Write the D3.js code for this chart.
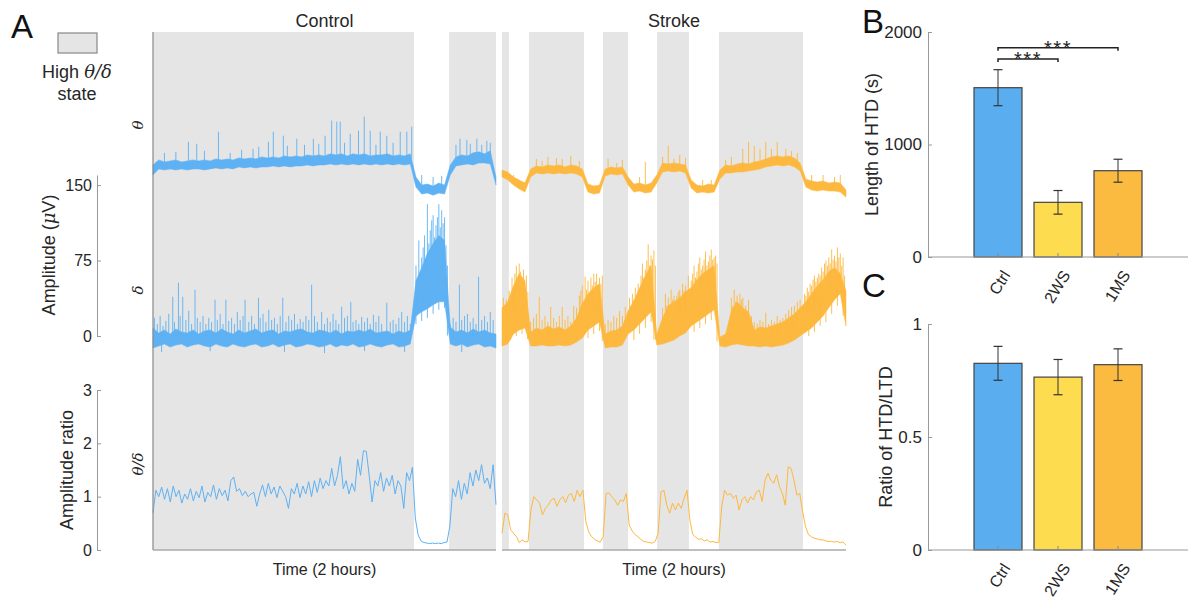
<!DOCTYPE html>
<html>
<head>
<meta charset="utf-8">
<script src="https://cdn.jsdelivr.net/npm/d3@7"></script>
<style>
body { margin: 0; background: #fff; }
svg { font-family: "Liberation Sans", Arial, sans-serif; }
</style>
</head>
<body>
<div id="chart"></div>
<script>
// ---- data ----
const groups = ['Ctrl', '2WS', '1MS'];
const htdLength = [1505, 486, 767];
const htdLengthErr = [160, 105, 102];
const htdRatio = [0.826, 0.765, 0.82];
const htdRatioErr = [0.075, 0.078, 0.07];
const sigPairs = [[0, 1, '***'], [0, 2, '***']];

const ampTicks = [0, 75, 150];
const ratioTicks = [0, 1, 2, 3];
const lengthTicks = [0, 1000, 2000];
const ratioBarTicks = [0, 0.5, 1];

// high theta/delta periods, minutes of the 2 hour window
const ctrlHigh = [[0, 91.3], [103.6, 120]];
const strokeHigh = [[0, 2.4], [9.4, 28.6], [35.2, 44], [54.1, 65.2], [75.7, 105]];

// amplitude envelopes, one value every 2 min (0..120), uV (theta drawn with offset)
const ctrlThetaHi = [170,175,173,174,175,173,174,175,174,175, 174,176,175,176,175,177,176,177,176,178,
  177,178,177,179,178,179,178,180,179,180, 179,181,180,181,179,181,180,181,179,180,
  180,181,179,180,179,181,158,150,151,149, 152,150,170,178,180,179,182,183,181,184, 158];
const ctrlThetaLo = [160,166,165,166,165,166,165,166,166,165, 166,167,166,167,166,168,167,168,167,168,
  168,169,168,169,168,169,169,170,169,170, 170,171,170,171,170,171,170,171,170,171,
  170,171,170,171,170,171,148,141,142,140, 142,141,160,169,170,171,170,172,172,171, 150];
const ctrlDeltaHi = [8,3,6,2,7,4,3,6,2,5, 6,3,7,4,2,6,3,5,7,3, 5,6,2,5,4,6,7,4,3,6,
  5,3,6,2,5,4,6,4,7,3, 4,5,2,5,3,6,55,68,82,92, 100,95,9,4,6,3,7,4,6,3, 2];
const ctrlDeltaLo = [-12,-10,-8,-11,-9,-8,-11,-9,-8,-10, -11,-8,-10,-11,-8,-10,-11,-9,-8,-11,
  -10,-8,-11,-9,-8,-11,-10,-8,-9,-11, -10,-8,-11,-9,-10,-8,-11,-10,-8,-10,
  -11,-9,-8,-11,-10,-8,20,24,27,31, 34,34,-8,-10,-8,-11,-9,-8,-11,-10, -12];
const strokeThetaHi = [165,163,158,155,152,166,169,168,170,169, 170,168,170,169,166,151,149,150,166,168,
  167,168,158,151,152,150,152,160,172,171, 172,171,170,155,150,149,151,150,165,170,
  169,171,172,171,173,174,176,178,179,178, 179,177,172,156,154,153,154,152,153,152, 145];
const strokeThetaLo = [158,155,150,146,143,158,162,161,162,161, 162,161,162,161,158,143,141,142,159,161,
  160,161,150,143,144,142,143,152,163,164, 163,164,162,147,142,143,142,143,156,162,
  162,163,163,164,165,166,168,169,170,169, 170,168,164,148,145,144,145,144,144,143, 138];
const strokeDeltaHi = [28,34,50,62,55, 4,8,6,10,7,9,6,10,18,32, 42,48,52, 2,5,6,10, 25,35,48,60,70,
  2,18,30,34,38,44, 48,56,62,66,70, -1,2,25,34,28,24,6,9,8,10,12,14,18,22,28,
  34,42,50,56,64,68,62,45];
const strokeDeltaLo = [-10,-8,2,6,8, -10,-10,-9,-10,-10,-9,-10,-9,-6,-2, 6,10,14, -12,-11,-11,-9, 2,6,12,18,24,
  -9,-8,-6,-4,0,3, 10,14,18,22,26, -10,-11,-9,-8,-9,-10,-10,-11,-10,-11,-10,-9,-7,-4,0,
  4,8,14,20,28,36,42,10];

// spikes out of the envelopes: [minute, peak uV]
const ctrlThetaSpikes = [[4,182],[8,183],[12.4,193],[15.3,191],[18,184],[22.9,203],[27,182],[31,185],[35,186],
  [37,188],[40.4,193],[42.1,203],[45.6,199],[47,189],[50.3,196],[53,190],[56.1,196],[58,191],[60.2,199],
  [62.5,214],[64.3,213],[65.5,213],[67,192],[69,201],[71.9,204],[73.9,218],[76,204],[78,190],[79.5,203],
  [81.8,199],[84,192],[86.5,203],[88.8,203],[90.5,208],[94,160],[98,158],[101,159],[106,190],[107.4,196],
  [109.8,195],[111,191],[113.3,196],[115,190],[116.8,194],[118,192]];
const ctrlDeltaSpikes = [[0.5,18],[1.5,12],[2.5,20],[3.5,10],[4.5,15],[5.5,22],[6.9,39],[7.5,14],[8.9,53],
  [9.5,20],[10.4,39],[11.5,16],[12.5,25],[13.5,12],[14.7,46],[15.5,18],[16.5,14],[17.5,20],[18.5,12],
  [19.5,18],[20.5,14],[21.7,36],[22.5,16],[23.5,22],[24.5,12],[25.5,36],[26.5,15],[27.5,18],[28.5,12],
  [29.5,24],[30.5,16],[31.5,20],[32.2,36],[33.5,14],[34.5,20],[35.5,12],[36.9,38],[37.5,18],[38.5,22],
  [39.5,14],[40.5,26],[41.5,16],[42.5,18],[43.5,12],[44.5,20],[45.4,38],[46.5,14],[47.5,20],[48.5,16],
  [49.5,22],[50.5,12],[51.5,17],[52.5,14],[53.5,20],[54.5,16],[55.5,51],[56.5,20],[57.5,14],[59,24],
  [60,12],[61,18],[62,14],[63,22],[64,16],[65,12],[66,29],[67,18],[68,20],[69.2,34],[70,14],[71,16],
  [72,12],[73,19],[74,14],[75,18],[76,12],[77.1,21],[78,14],[79,20],[80,12],[81.8,33],[83,14],[84,16],
  [85,12],[86,18],[87,24],[88,14],[89,20],[90,12],
  [92,70],[92.5,40],[93,95],[93.5,62],[94,78],[94.5,88],[95,100],[95.5,75],[96,131],[96.5,92],[97,105],
  [97.5,115],[98,120],[98.5,98],[99,110],[99.5,118],[100,131],[100.5,108],[101,125],[101.5,112],[102,118],
  [102.5,90],[103,70],[92,12],[94,15],[96,18],[98,22],[100,26],[102,28],
  [104,12],[105,18],[106,14],[107.2,51],[108,16],[109,20],[110,22],[111,14],[112,18],[113,12],[113.9,59],
  [115,16],[116,20],[117,14],[118,24],[119,16],
  [3,-16],[20,-15],[46,-16],[60,-17],[74,-15],[88,-16],[108,-16]];
const strokeThetaSpikes = [[4,160],[8,153],[12,176],[14,174],[16,178],[19,177],[21,176],[24,179],[27,174],
  [37,176],[40,172],[42,175],[48,158],[50,173],[56,178],[58,189],[60,176],[62,180],[64,177],[70,155],
  [73,155],[78,175],[80,178],[84,186],[86,193],[88,189],[90,186],[92,193],[94,186],[96,193],[99,186],
  [101,184],[103,182],[108,160],[112,160],[116,158],[118,160]];
const strokeDeltaSpikes = [[0.5,38],[1,20],[1.5,36],[2.5,45],[3,30],[3.5,58],[4,40],[4.5,62],[5,70],[5.5,50],
  [6,72],[6.5,64],[7,58],[7.5,66],[8,48],[8.5,60],[9,44],[3,-4],[5,0],[7,2],[9,0],
  [10,14],[11,18],[12,22],[13,39],[14,16],[15,20],[16,14],[17,29],[18,18],[19,14],[20,20],[21,29],[22,16],
  [23,20],[24,14],[25,30],[26,28],[27,40],[27.5,45],[28,50],
  [29,59],[29.5,46],[30,55],[30.5,40],[31,58],[31.5,50],[32,62],[32.5,54],[33,62],[33.5,48],[34,58],
  [34.5,52],[35,60],[30,-2],[32,2],[34,5],
  [36,12],[37,16],[38,14],[39,20],[40,18],[41,25],[42,20],[43,29],
  [44.5,38],[45,30],[45.5,42],[46,36],[46.5,48],[47,40],[47.5,52],[48,45],[48.5,60],[49,72],[49.5,58],
  [50,66],[50.5,75],[51,91],[51.5,70],[52,80],[52.5,76],[53,85],[53.5,70],[46,-4],[48,2],[50,8],[52,14],
  [55,8],[56,28],[57,42],[57.5,30],[58,38],[59,46],[59.5,36],[60,40],[61,40],[61.5,44],[62,46],[63,52],
  [63.5,45],[64,50],[65,60],
  [66,55],[66.5,62],[67,70],[67.5,58],[68,64],[68.5,72],[69,78],[69.5,66],[70,70],[70.5,76],[71,84],
  [71.5,70],[72,74],[72.5,80],[73,86],[73.5,76],[74,78],[74.5,80],[75,72],[67,4],[69,8],[71,12],[73,16],
  [80,38],[80.5,30],[81,46],[81.5,34],[82,40],[83,42],[83.5,36],[84,38],[85,30],[86,36],[87,20],[88,14],
  [89,12],[90,16],[91,14],[92,23],[93,12],[94,16],[95,14],[96,20],[97,16],[98,18],[99,22],[100,26],
  [101,29],[102,30],[103,34],[104,36],
  [105.5,42],[106,40],[106.5,48],[107,44],[107.5,52],[108,50],[108.5,56],[109,60],[109.5,54],[110,58],
  [110.5,62],[111,60],[111.5,68],[112,64],[112.5,72],[113,75],[113.5,70],[114,78],[114.5,72],[115,86],
  [115.5,76],[116,80],[116.5,74],[117,88],[117.5,78],[118,82],[118.5,70],[119,78],[119.5,60],
  [107,0],[109,4],[111,10],[113,14],[115,22],[117,30],[119,20]];

// theta/delta amplitude ratio, one value per minute
const ctrlRatio = [0.7,1.12,1.0,1.18,0.95,1.15,0.9,1.2,1.0,1.12,0.88,1.05,0.95,1.15,0.92,1.1,0.98,1.2,0.9,1.08,
  1.0,1.22,0.95,1.15,1.02,1.12,0.92,1.3,1.37,1.1,1.15,1.02,1.1,1.0,1.05,1.08,0.82,1.05,1.22,1.0,
  1.25,1.05,1.18,0.98,1.2,1.1,1.0,0.78,1.15,1.05,1.25,0.98,1.2,1.05,1.28,1.0,1.3,1.08,1.35,1.15,
  1.3,1.2,1.53,1.2,1.4,1.75,1.15,1.3,1.05,1.25,1.1,1.7,1.4,1.86,1.85,1.4,0.9,1.3,1.2,1.45,
  1.1,1.35,1.2,1.4,1.05,1.3,1.2,0.78,1.45,1.3,1.55,0.6,0.28,0.17,0.14,0.13,0.12,0.13,0.12,0.13,
  0.12,0.14,0.15,0.45,1.15,1.0,1.3,0.95,1.25,1.05,1.45,1.2,1.5,1.3,1.6,1.25,1.35,1.15,1.6,0.85];
const strokeRatio = [0.31,0.69,0.66,0.38,0.31,0.25,0.14,0.19,0.15,0.16,0.75,1.0,0.94,0.88,0.66,0.78,0.84,0.94,0.97,0.82,
  0.94,1.0,0.89,1.03,1.06,0.91,1.12,1.0,1.12,0.53,0.34,0.25,0.2,0.17,0.15,0.25,1.06,1.07,1.0,0.94,
  0.84,0.94,0.91,1.06,0.47,0.36,0.29,0.25,0.2,0.16,0.15,0.14,0.13,0.16,0.31,1.09,1.12,0.84,0.69,0.88,
  0.75,0.88,0.78,0.97,1.12,0.56,0.29,0.24,0.2,0.21,0.17,0.19,0.15,0.16,0.14,0.14,0.81,1.12,1.03,1.06,
  0.97,1.03,0.75,0.94,1.0,0.88,1.0,0.94,1.09,1.12,0.91,1.31,1.44,1.31,1.25,1.41,1.19,1.06,0.84,1.56,
  1.53,1.31,1.03,1.06,0.72,0.44,0.29,0.25,0.22,0.21,0.19,0.19,0.17,0.16,0.16,0.15,0.16,0.14,0.15,0.09];

const blue = '#5eb1f3', orange = '#fdb83f';
const barColors = ['#5aaef0', '#fddc50', '#fbbb40'];
const txt = '#262626', axisCol = '#999';

const svg = d3.select('#chart').append('svg')
    .attr('width', 1191)
    .attr('height', 599);

// ---- panel A ----
const plotTop = 32, plotBottom = 550;
const ctrlX = d3.scaleLinear().domain([0, 120]).range([153, 496]);
const strokeX = d3.scaleLinear().domain([0, 120]).range([502, 846]);
const ampY = d3.scaleLinear().domain([0, 160]).range([336, 175]);
const ratioY = d3.scaleLinear().domain([0, 3]).range([550, 390]);

function bands(x, list) {
    svg.append('g').selectAll('rect').data(list).enter().append('rect')
        .attr('x', d => x(d[0]))
        .attr('width', d => x(d[1]) - x(d[0]))
        .attr('y', plotTop)
        .attr('height', plotBottom - plotTop)
        .attr('fill', '#e5e5e5');
}
bands(ctrlX, ctrlHigh);
bands(strokeX, strokeHigh);

// envelope band plus spikes (spikes start from the middle of the band)
function envelope(lo, hi, spikes, x, color) {
    let step = 120 / (hi.length - 1);
    let idx = d3.range(hi.length);
    svg.append('path').datum(idx)
        .attr('d', d3.area().x(i => x(i * step)).y0(i => ampY(lo[i])).y1(i => ampY(hi[i])))
        .attr('fill', color)
        .attr('stroke', color)
        .attr('stroke-width', 0.5)
        .attr('stroke-linejoin', 'round');
    svg.append('g').selectAll('line').data(spikes).enter().append('line')
        .attr('x1', d => x(d[0])).attr('x2', d => x(d[0]))
        .attr('y1', d => {
            let k = Math.round(d[0] / step);
            return ampY((lo[k] + hi[k]) / 2);
        })
        .attr('y2', d => ampY(d[1]))
        .attr('stroke', color)
        .attr('stroke-opacity', 0.9)
        .attr('stroke-width', 1);
}
envelope(ctrlThetaLo, ctrlThetaHi, ctrlThetaSpikes, ctrlX, blue);
envelope(ctrlDeltaLo, ctrlDeltaHi, ctrlDeltaSpikes, ctrlX, blue);
envelope(strokeThetaLo, strokeThetaHi, strokeThetaSpikes, strokeX, orange);
envelope(strokeDeltaLo, strokeDeltaHi, strokeDeltaSpikes, strokeX, orange);

function trace(vals, x, y, color, w) {
    let xi = d3.scaleLinear().domain([0, vals.length - 1]).range(x.range());
    svg.append('path').datum(vals)
        .attr('d', d3.line().x((d, i) => xi(i)).y(d => y(d)))
        .attr('fill', 'none')
        .attr('stroke', color)
        .attr('stroke-width', w)
        .attr('stroke-linejoin', 'round');
}
trace(ctrlRatio, ctrlX, ratioY, blue, 1);
trace(strokeRatio, strokeX, ratioY, orange, 1);

// axis lines of the trace panels
svg.append('line').attr('x1', 153).attr('x2', 153).attr('y1', plotTop).attr('y2', plotBottom)
    .attr('stroke', '#888').attr('stroke-width', 1.2);
[ctrlX, strokeX].forEach(x => {
    svg.append('line').attr('x1', x.range()[0]).attr('x2', x.range()[1])
        .attr('y1', plotBottom).attr('y2', plotBottom)
        .attr('stroke', '#aaa').attr('stroke-width', 1.5);
});

const fmt = d3.format('~g');
function styleAxis(g, size) {
    g.select('.domain').attr('stroke', axisCol);
    g.selectAll('.tick line').attr('stroke', axisCol);
    g.selectAll('.tick text').attr('fill', txt).attr('font-size', size)
        .attr('font-family', '"Liberation Sans", Arial, sans-serif');
}
svg.append('g').attr('transform', 'translate(97,0)')
    .call(d3.axisLeft(ampY).tickValues(ampTicks).tickFormat(fmt).tickSizeInner(-4).tickSizeOuter(0).tickPadding(5))
    .call(g => styleAxis(g, 16));
svg.append('g').attr('transform', 'translate(97,0)')
    .call(d3.axisLeft(ratioY).tickValues(ratioTicks).tickFormat(fmt).tickSizeInner(-4).tickSizeOuter(0).tickPadding(5))
    .call(g => styleAxis(g, 16));

function vlabel(x, y, size) {
    return svg.append('text')
        .attr('transform', `translate(${x},${y}) rotate(-90)`)
        .attr('text-anchor', 'middle')
        .attr('font-size', size)
        .attr('fill', txt);
}
let amp = vlabel(55, 255, 18);
amp.append('tspan').text('Amplitude (');
amp.append('tspan').text('μ').attr('font-family', 'DejaVu Serif').attr('font-style', 'italic');
amp.append('tspan').text('V)');
vlabel(73, 470, 18).text('Amplitude ratio');

const serif = '"DejaVu Serif", "Liberation Serif", serif';
vlabel(143, 125, 15).attr('font-family', serif).attr('font-style', 'italic').text('θ');
vlabel(143, 290, 15).attr('font-family', serif).attr('font-style', 'italic').text('δ');
vlabel(143, 464, 15).attr('font-family', serif).attr('font-style', 'italic').text('θ/δ');

svg.append('text').attr('x', ctrlX(60)).attr('y', 27).attr('text-anchor', 'middle')
    .attr('font-size', 18).attr('fill', txt).text('Control');
svg.append('text').attr('x', strokeX(60)).attr('y', 27).attr('text-anchor', 'middle')
    .attr('font-size', 18).attr('fill', txt).text('Stroke');
[ctrlX, strokeX].forEach(x => {
    svg.append('text').attr('x', x(60)).attr('y', 575).attr('text-anchor', 'middle')
        .attr('font-size', 16).attr('fill', txt).text('Time (2 hours)');
});

// legend
svg.append('rect').attr('x', 58).attr('y', 33).attr('width', 39).attr('height', 20)
    .attr('fill', '#e5e5e5').attr('stroke', '#888').attr('stroke-width', 1.2);
let lg = svg.append('text').attr('x', 77).attr('y', 78).attr('text-anchor', 'middle')
    .attr('font-size', 18).attr('fill', txt);
lg.append('tspan').text('High ');
lg.append('tspan').text('θ/δ').attr('font-family', serif).attr('font-style', 'italic');
svg.append('text').attr('x', 77).attr('y', 100).attr('text-anchor', 'middle')
    .attr('font-size', 18).attr('fill', txt).text('state');

// panel letters
[['A', 11, 38], ['B', 862, 33], ['C', 862, 297]].forEach(l => {
    svg.append('text').attr('x', l[1]).attr('y', l[2]).attr('font-size', 33)
        .attr('fill', '#111').text(l[0]);
});

// ---- panels B and C ----
const barX = d3.scaleLinear().domain([0, 4]).range([938, 1178]);
const barW = barX(0.8) - barX(0);

function barPanel(yScale, vals, errs, ticks, y0, label, lx) {
    let g = svg.append('g');
    g.selectAll('rect').data(vals).enter().append('rect')
        .attr('x', (d, i) => barX(i + 1) - barW / 2)
        .attr('width', barW)
        .attr('y', d => yScale(d))
        .attr('height', d => yScale(0) - yScale(d))
        .attr('fill', (d, i) => barColors[i])
        .attr('stroke', '#444')
        .attr('stroke-width', 1.2);
    // x axis with inward ticks
    g.append('line').attr('x1', 928).attr('x2', 1188).attr('y1', y0).attr('y2', y0)
        .attr('stroke', axisCol).attr('stroke-width', 1.2);
    groups.forEach((name, i) => {
        g.append('line').attr('x1', barX(i + 1)).attr('x2', barX(i + 1))
            .attr('y1', y0).attr('y2', y0 - 4).attr('stroke', '#888');
        g.append('text')
            .attr('transform', `translate(${barX(i + 1) + 13},${y0 + 18}) rotate(-58)`)
            .attr('text-anchor', 'end')
            .attr('font-size', 16)
            .attr('fill', txt)
            .text(name);
    });
    // error bars
    vals.forEach((v, i) => {
        let cx = barX(i + 1);
        g.append('line').attr('x1', cx).attr('x2', cx)
            .attr('y1', yScale(v - errs[i])).attr('y2', yScale(v + errs[i]))
            .attr('stroke', '#333').attr('stroke-width', 1);
        [v - errs[i], v + errs[i]].forEach(e => {
            g.append('line').attr('x1', cx - 4.5).attr('x2', cx + 4.5)
                .attr('y1', yScale(e)).attr('y2', yScale(e))
                .attr('stroke', '#333').attr('stroke-width', 1.2);
        });
    });
    svg.append('g').attr('transform', 'translate(928,0)')
        .call(d3.axisLeft(yScale).tickValues(ticks).tickFormat(fmt).tickSizeInner(-4).tickSizeOuter(0).tickPadding(6))
        .call(ax => styleAxis(ax, 17));
    vlabel(lx, (yScale.range()[0] + yScale.range()[1]) / 2, 18).text(label);
}

const lenY = d3.scaleLinear().domain([0, 2000]).range([257, 32]);
const ratY = d3.scaleLinear().domain([0, 1]).range([550, 324]);
barPanel(lenY, htdLength, htdLengthErr, lengthTicks, 257, 'Length of HTD (s)', 878);
barPanel(ratY, htdRatio, htdRatioErr, ratioBarTicks, 550, 'Ratio of HTD/LTD', 892);

// significance brackets
const topErr = d3.max(htdLength.map((v, i) => v + htdLengthErr[i]));
sigPairs.forEach((p, k) => {
    let yy = lenY(topErr + 95 + k * 100);
    let x1 = barX(p[0] + 1), x2 = barX(p[1] + 1);
    svg.append('path')
        .attr('d', `M${x1},${yy + 3}V${yy}H${x2}V${yy + 3}`)
        .attr('fill', 'none').attr('stroke', '#222').attr('stroke-width', 1.5);
    svg.append('text').attr('x', (x1 + x2) / 2).attr('y', yy + 7)
        .attr('text-anchor', 'middle').attr('font-size', 20).attr('letter-spacing', 1.5)
        .attr('fill', '#222').text(p[2]);
});
</script>
</body>
</html>
